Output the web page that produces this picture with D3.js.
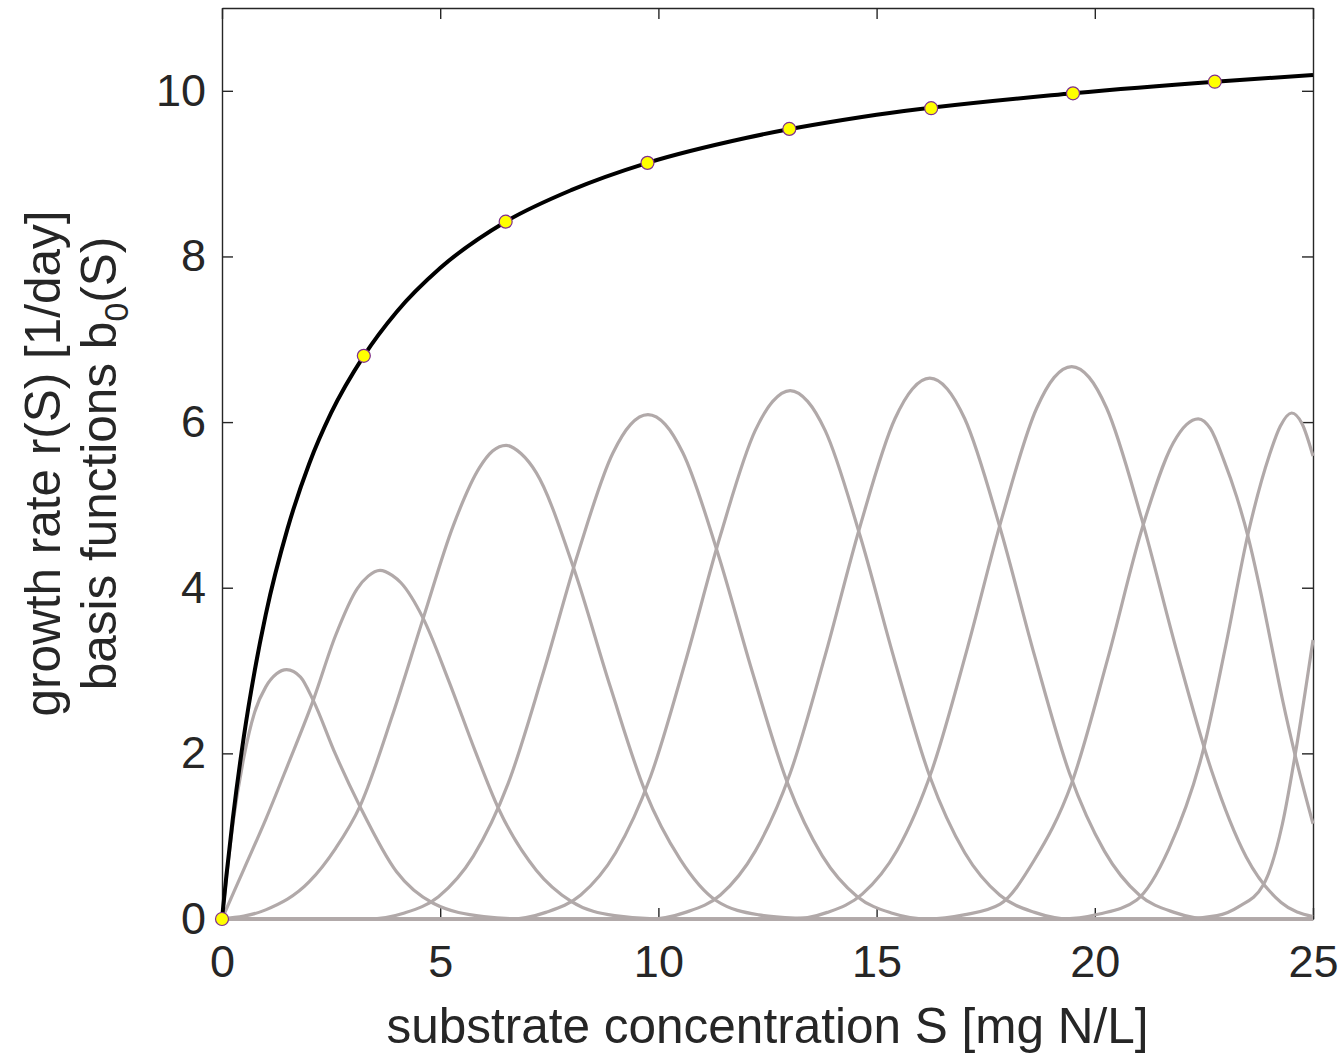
<!DOCTYPE html>
<html>
<head>
<meta charset="utf-8">
<script src="https://cdn.jsdelivr.net/npm/d3@7"></script>
<style>
  body { margin: 0; background: #fff; }
  svg { display: block; }
</style>
</head>
<body>
<svg width="1343" height="1055"></svg>
<script>
// growth rate curve r(S)
const rateS = [0, 0.1, 0.25, 0.5, 0.75, 1, 1.5, 2, 2.5, 3.25, 4, 5, 6.5, 8, 9.75, 12, 15, 19.5, 22.75, 25];
const rateV = [0, 0.52, 1.22, 2.2, 3.0, 3.67, 4.71, 5.5, 6.11, 6.8, 7.33, 7.86, 8.42, 8.8, 9.13, 9.43, 9.71, 9.97, 10.11, 10.19];

// yellow markers on r(S)
const nodeS = [0, 3.25, 6.5, 9.75, 13, 16.25, 19.5, 22.75];
const nodeV = [0, 6.8, 8.42, 9.13, 9.54, 9.79, 9.97, 10.11];

// basis functions b_0(S): [S, value] pairs per curve
const basis1 = [[0,0],[0.25,1.15],[0.5,1.95],[0.75,2.5],[1,2.8],[1.25,2.96],[1.48,3.01],[1.8,2.92],[2.09,2.64],[2.6,1.99],[3.16,1.36],[4,0.57],[4.84,0.19],[6,0.03],[7,0],[25,0]];
const basis2 = [[0,0],[0.5,0.6],[1,1.2],[1.5,1.85],[2.09,2.64],[2.6,3.42],[3.1,3.99],[3.35,4.14],[3.62,4.21],[3.9,4.15],[4.1,4.06],[4.61,3.63],[5.2,2.87],[5.8,2.03],[6.33,1.34],[7.2,0.59],[8.01,0.21],[9,0.04],[10,0],[25,0]];
const basis3 = [[0,0],[1,0.11],[2,0.45],[2.6,0.85],[3.16,1.36],[3.9,2.45],[4.61,3.63],[5.3,4.75],[5.9,5.45],[6.2,5.65],[6.51,5.72],[6.85,5.62],[7.2,5.39],[8.05,4.25],[8.9,2.8],[9.69,1.55],[10.5,0.72],[11.33,0.22],[12.3,0.05],[13.2,0.01],[14,0],[25,0]];
const basis4 = [[0,0],[3.36,0],[4.16,0.07],[4.96,0.27],[5.76,0.76],[6.56,1.64],[7.36,2.97],[8.16,4.42],[8.96,5.63],[9.36,5.97],[9.76,6.09],[10.16,5.97],[10.56,5.63],[11.36,4.42],[12.16,2.97],[12.96,1.64],[13.76,0.76],[14.56,0.27],[15.36,0.07],[16.16,0],[25,0]];
const basis5 = [[0,0],[6.62,0],[7.42,0.08],[8.22,0.29],[9.02,0.8],[9.82,1.72],[10.62,3.11],[11.42,4.63],[12.22,5.9],[12.62,6.25],[13.02,6.38],[13.42,6.25],[13.82,5.9],[14.62,4.63],[15.42,3.11],[16.22,1.72],[17.02,0.8],[17.82,0.29],[18.62,0.08],[19.42,0],[25,0]];
const basis6 = [[0,0],[9.82,0],[10.62,0.08],[11.42,0.29],[12.22,0.82],[13.02,1.76],[13.82,3.18],[14.62,4.74],[15.42,6.04],[15.82,6.4],[16.22,6.53],[16.62,6.4],[17.02,6.04],[17.82,4.74],[18.62,3.18],[19.42,1.76],[20.22,0.82],[21.02,0.29],[21.82,0.08],[22.62,0],[25,0]];
const basis7 = [[0,0],[13.07,0],[13.87,0.08],[14.67,0.3],[15.47,0.83],[16.27,1.8],[17.07,3.25],[17.87,4.84],[18.67,6.17],[19.07,6.54],[19.47,6.67],[19.87,6.54],[20.27,6.17],[21.07,4.84],[21.87,3.25],[22.67,1.8],[23.47,0.75],[24.27,0.2],[25,0.03]];
const basis8 = [[0,0],[16.2,0],[17,0.05],[17.83,0.18],[18.6,0.7],[19.47,1.64],[20.3,3.15],[21.11,4.76],[21.8,5.75],[22.1,5.97],[22.37,6.04],[22.65,5.92],[22.95,5.55],[23.25,5.1],[23.52,4.6],[23.8,3.95],[24.05,3.3],[24.3,2.65],[24.59,1.98],[25,1.15]];
const basis9 = [[0,0],[19.2,0],[20.1,0.06],[20.96,0.23],[21.7,0.85],[22.49,2.05],[23,3.3],[23.52,4.67],[24,5.6],[24.25,5.95],[24.51,6.11],[24.75,5.98],[25,5.59]];
const basis10 = [[0,0],[22,0],[22.8,0.04],[23.3,0.15],[23.86,0.41],[24.3,1.15],[24.59,1.98],[25,3.37]];
const basisCurves = [basis1, basis2, basis3, basis4, basis5, basis6, basis7, basis8, basis9, basis10];

const xTicks = [0, 5, 10, 15, 20, 25];
const yTicks = [0, 2, 4, 6, 8, 10];

const svg = d3.select('svg');
const W = +svg.attr('width'), H = +svg.attr('height');
const margin = {left: 222, top: 8, right: W - 1313, bottom: H - 919};
const axisColor = '#262626';
const font = '"Liberation Sans", Arial, Helvetica, sans-serif';
const tickFont = 45, labelFont = 49.5;

const x = d3.scaleLinear().domain([0, 25]).range([margin.left, W - margin.right]);
const y = d3.scaleLinear().domain([0, 11]).range([H - margin.bottom, margin.top]);

// axes box (drawn under the data, like matlab)
const axes = svg.append('g');
const tickLen = 11;
const x_ax = d3.axisBottom(x).tickValues(xTicks).tickSizeInner(-tickLen).tickSizeOuter(0).tickPadding(26);
const y_ax = d3.axisLeft(y).tickValues(yTicks).tickSizeInner(-tickLen).tickSizeOuter(0).tickPadding(16);
const x_top = d3.axisTop(x).tickValues(xTicks).tickSizeInner(-tickLen).tickSizeOuter(0).tickFormat('');
const y_right = d3.axisRight(y).tickValues(yTicks).tickSizeInner(-tickLen).tickSizeOuter(0).tickFormat('');

axes.append('g').attr('transform', `translate(0,${y(0)})`).call(x_ax);
axes.append('g').attr('transform', `translate(${x(0)},0)`).call(y_ax);
axes.append('g').attr('transform', `translate(0,${y(11)})`).call(x_top);
axes.append('g').attr('transform', `translate(${x(25)},0)`).call(y_right);

axes.selectAll('.domain').attr('stroke', axisColor).attr('stroke-width', 1.4);
axes.selectAll('.tick line').attr('stroke', axisColor).attr('stroke-width', 1.4);
axes.selectAll('.tick text').attr('fill', axisColor).style('font-size', tickFont + 'px').style('font-family', font);

// basis functions
const line = d3.line()
               .curve(d3.curveMonotoneX)
               .x(d => x(d[0]))
               .y(d => y(d[1]));

svg.append('g')
   .selectAll('path')
   .data(basisCurves)
   .join('path')
   .attr('d', line)
   .attr('fill', 'none')
   .attr('stroke', '#b1a9a9')
   .attr('stroke-width', 3.2);

// growth rate
svg.append('path')
   .datum(rateS.map((s, i) => [s, rateV[i]]))
   .attr('d', line)
   .attr('fill', 'none')
   .attr('stroke', '#000')
   .attr('stroke-width', 4);

svg.append('g')
   .selectAll('circle')
   .data(nodeS.map((s, i) => [s, nodeV[i]]))
   .join('circle')
   .attr('cx', d => x(d[0]))
   .attr('cy', d => y(d[1]))
   .attr('r', 6.5)
   .attr('fill', '#ffff00')
   .attr('stroke', '#7e2f8e')
   .attr('stroke-width', 1.2);

// labels
svg.append('text')
   .attr('x', (x(0) + x(25)) / 2)
   .attr('y', 1043)
   .attr('text-anchor', 'middle')
   .attr('fill', axisColor)
   .style('font-family', font)
   .style('font-size', labelFont + 'px')
   .text('substrate concentration S [mg N/L]');

const ymid = (y(0) + y(11)) / 2;
svg.append('text')
   .attr('transform', `translate(60,${ymid}) rotate(-90)`)
   .attr('text-anchor', 'middle')
   .attr('fill', axisColor)
   .style('font-family', font)
   .style('font-size', labelFont + 'px')
   .text('growth rate r(S) [1/day]');

const l2 = svg.append('text')
   .attr('transform', `translate(116,${ymid}) rotate(-90)`)
   .attr('text-anchor', 'middle')
   .attr('fill', axisColor)
   .style('font-family', font)
   .style('font-size', labelFont + 'px');
l2.append('tspan').text('basis functions b');
l2.append('tspan').attr('dy', 12).style('font-size', '34px').text('0');
l2.append('tspan').attr('dy', -12).text('(S)');
</script>
</body>
</html>
